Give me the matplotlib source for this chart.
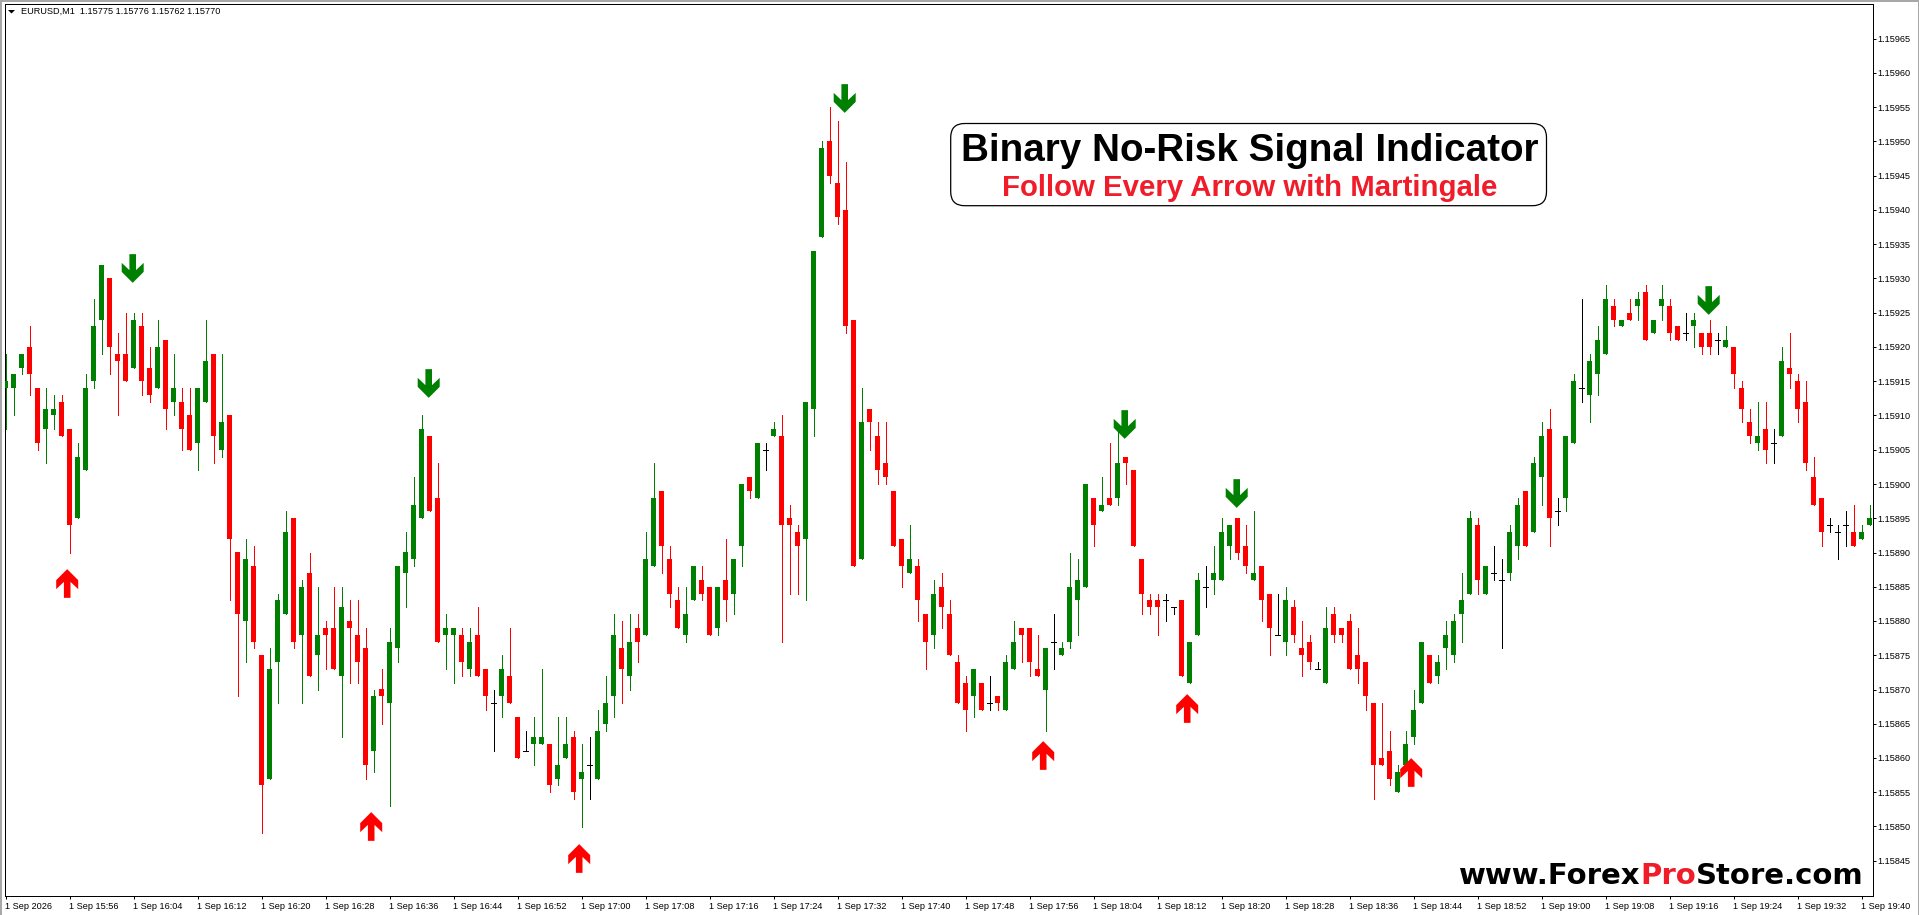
"""
Grafico de velas EURUSD M1 con las flechas del indicador Binary No-Risk Signal.
"""

import matplotlib
matplotlib.use("Agg")
import matplotlib.pyplot as plt
import numpy as np
from matplotlib import transforms
from matplotlib.patches import FancyBboxPatch, Polygon, Rectangle
from matplotlib.path import Path

# Precios en puntos por encima de 1.15000 (905 -> 1.15905), una vela por minuto
opens = [914, 914, 917, 920, 914, 908, 910, 912, 908, 895, 902, 915, 924, 930, 919, 919, 917, 923, 917, 914,
         921, 912, 912, 910, 906, 912, 919, 905, 910, 890, 880, 888, 875, 857, 874, 881, 895, 878, 887, 875,
         879, 879, 872, 880, 878, 876, 861, 870, 868, 876, 887, 889, 895, 907, 898, 878, 878, 878, 873, 878,
         873, 868, 869, 872, 866, 861, 862, 862, 862, 857, 860, 863, 857, 859, 857, 865, 869, 876, 872, 879,
         878, 888, 899, 889, 883, 878, 883, 886, 885, 879, 886, 884, 891, 901, 898, 905, 907, 907, 895, 893,
         892, 911, 936, 950, 944, 940, 924, 889, 911, 907, 903, 899, 892, 887, 888, 881, 878, 885, 881, 874,
         871, 869, 871, 868, 869, 867, 873, 879, 879, 873, 870, 877, 875, 877, 883, 885, 898, 896, 898, 898,
         904, 902, 889, 883, 883, 883, 882, 883, 871, 878, 885, 886, 886, 891, 895, 891, 886, 888, 884, 878,
         877, 882, 876, 877, 873, 871, 881, 879, 880, 875, 874, 868, 860, 861, 855, 859, 863, 868, 875, 872,
         876, 875, 881, 884, 894, 884, 887, 886, 887, 891, 899, 893, 901, 908, 896, 898, 906, 914, 913, 916,
         919, 926, 923, 925, 926, 928, 922, 926, 926, 923, 922, 923, 922, 922, 921, 920, 920, 914, 909, 906,
         908, 906, 907, 917, 915, 912, 901, 898, 894, 893, 894, 893, 892, 894]
highs = [919, 916, 919, 923, 914, 914, 913, 913, 908, 906, 916, 927, 932, 930, 922, 925, 925, 925, 920, 924,
         921, 919, 914, 914, 914, 924, 919, 919, 910, 890, 892, 891, 875, 876, 884, 896, 895, 886, 890, 885,
         880, 885, 885, 883, 883, 879, 870, 873, 879, 888, 893, 901, 910, 907, 903, 881, 879, 879, 879, 882,
         873, 870, 875, 879, 866, 864, 866, 873, 862, 866, 866, 864, 862, 863, 867, 872, 881, 880, 881, 881,
         893, 903, 899, 891, 885, 885, 888, 888, 885, 885, 892, 889, 900, 901, 906, 906, 909, 910, 897, 894,
         912, 934, 950, 955, 953, 947, 924, 914, 911, 909, 909, 899, 892, 894, 889, 881, 886, 887, 883, 875,
         872, 873, 871, 872, 869, 875, 880, 879, 879, 878, 876, 881, 877, 890, 889, 900, 898, 901, 906, 908,
         904, 902, 889, 884, 884, 884, 882, 883, 877, 887, 888, 891, 895, 894, 895, 894, 896, 888, 884, 884,
         885, 883, 880, 878, 874, 882, 882, 879, 881, 879, 874, 868, 868, 864, 859, 864, 870, 877, 875, 875,
         880, 881, 887, 896, 895, 888, 891, 889, 894, 898, 899, 904, 909, 911, 898, 907, 916, 927, 919, 923,
         929, 927, 924, 927, 928, 929, 924, 929, 927, 923, 925, 925, 922, 924, 922, 923, 920, 915, 911, 912,
         912, 908, 920, 922, 916, 915, 904, 898, 895, 894, 896, 897, 894, 897]
lows = [908, 910, 916, 913, 905, 903, 908, 907, 890, 895, 902, 914, 919, 916, 910, 915, 917, 913, 912, 914,
        908, 910, 905, 905, 902, 912, 903, 904, 883, 869, 874, 876, 849, 857, 868, 881, 876, 868, 872, 870,
        873, 873, 863, 871, 871, 857, 858, 865, 853, 874, 882, 888, 895, 896, 877, 873, 871, 872, 872, 872,
        867, 861, 866, 868, 860, 861, 859, 862, 855, 856, 860, 854, 850, 854, 857, 864, 866, 868, 870, 874,
        878, 888, 887, 882, 879, 877, 883, 883, 878, 878, 880, 881, 888, 898, 898, 902, 907, 877, 884, 884,
        883, 907, 936, 944, 938, 922, 888, 889, 905, 900, 900, 891, 885, 887, 880, 873, 876, 879, 875, 868,
        864, 866, 867, 867, 867, 867, 873, 874, 872, 872, 864, 873, 875, 876, 878, 885, 891, 896, 897, 897,
        900, 891, 881, 881, 878, 880, 881, 872, 871, 878, 882, 884, 886, 889, 889, 887, 886, 880, 875, 878,
        875, 877, 872, 873, 873, 871, 877, 877, 873, 871, 867, 854, 859, 856, 855, 859, 862, 868, 871, 871,
        873, 874, 877, 884, 884, 884, 886, 876, 886, 889, 891, 893, 897, 891, 894, 896, 906, 912, 909, 913,
        919, 923, 923, 924, 924, 921, 922, 924, 921, 921, 921, 920, 919, 919, 919, 920, 914, 909, 906, 905,
        903, 903, 907, 914, 909, 902, 897, 891, 893, 889, 891, 891, 892, 894]
closes = [915, 916, 919, 916, 906, 911, 911, 907, 894, 904, 914, 923, 932, 920, 918, 915, 924, 915, 913, 920,
          911, 914, 908, 905, 914, 918, 907, 909, 892, 881, 889, 877, 856, 873, 883, 893, 877, 885, 872, 878,
          878, 873, 882, 879, 874, 859, 869, 869, 877, 888, 890, 897, 908, 896, 877, 879, 879, 874, 877, 872,
          869, 868, 873, 868, 860, 861, 863, 863, 856, 859, 862, 855, 858, 859, 864, 868, 878, 873, 877, 877,
          889, 898, 891, 884, 879, 881, 888, 884, 878, 885, 883, 889, 900, 899, 906, 905, 908, 894, 894, 891,
          912, 934, 949, 945, 939, 923, 888, 909, 909, 902, 901, 891, 888, 889, 883, 877, 884, 882, 875, 868,
          867, 873, 867, 868, 868, 874, 877, 878, 874, 872, 876, 877, 876, 885, 886, 900, 894, 897, 897, 903,
          903, 891, 884, 882, 882, 883, 882, 872, 877, 886, 885, 887, 893, 894, 890, 888, 887, 883, 879, 878,
          883, 878, 875, 874, 873, 879, 878, 878, 873, 873, 869, 859, 859, 857, 858, 862, 867, 877, 871, 874,
          878, 880, 883, 895, 886, 888, 887, 886, 893, 897, 891, 903, 907, 895, 896, 907, 915, 914, 918, 921,
          927, 924, 924, 924, 927, 921, 924, 927, 922, 921, 922, 924, 920, 920, 921, 921, 916, 911, 907, 907,
          905, 906, 918, 916, 911, 903, 897, 893, 894, 893, 894, 891, 893, 895]

# Flechas del indicador: vela donde aparecen y precio (puntos) del centro de la flecha
up_arrow_bars = [8, 46, 72, 130, 148, 176]
up_arrow_prices = [885.5, 850.1, 845.4, 860.5, 867.3, 858.0]
down_arrow_bars = [16, 53, 105, 140, 154, 213]
down_arrow_prices = [931.5, 914.7, 956.4, 908.8, 898.7, 926.8]

x_tick_bars = [0, 8, 16, 24, 32, 40, 48, 56, 64, 72, 80, 88, 96, 104, 112, 120, 128, 136, 144, 152,
               160, 168, 176, 184, 192, 200, 208, 216, 224, 232]
x_tick_labels = ["1 Sep 2026", "1 Sep 15:56", "1 Sep 16:04", "1 Sep 16:12", "1 Sep 16:20", "1 Sep 16:28",
                 "1 Sep 16:36", "1 Sep 16:44", "1 Sep 16:52", "1 Sep 17:00", "1 Sep 17:08", "1 Sep 17:16",
                 "1 Sep 17:24", "1 Sep 17:32", "1 Sep 17:40", "1 Sep 17:48", "1 Sep 17:56", "1 Sep 18:04",
                 "1 Sep 18:12", "1 Sep 18:20", "1 Sep 18:28", "1 Sep 18:36", "1 Sep 18:44", "1 Sep 18:52",
                 "1 Sep 19:00", "1 Sep 19:08", "1 Sep 19:16", "1 Sep 19:24", "1 Sep 19:32", "1 Sep 19:40"]
y_tick_labels = ["1.15845", "1.15850", "1.15855", "1.15860", "1.15865", "1.15870", "1.15875", "1.15880",
                 "1.15885", "1.15890", "1.15895", "1.15900", "1.15905", "1.15910", "1.15915", "1.15920",
                 "1.15925", "1.15930", "1.15935", "1.15940", "1.15945", "1.15950", "1.15955", "1.15960",
                 "1.15965"]

header_text = "EURUSD,M1  1.15775 1.15776 1.15762 1.15770"
title_text = "Binary No-Risk Signal Indicator"
subtitle_text = "Follow Every Arrow with Martingale"

W, H = 1919, 915
GREEN = "#008000"
RED = "#FF0000"
TEXT_RED = "#F01C2A"
FONT = "Liberation Sans"
LABEL_SIZE = 6.6


def fx(px):
    return px / W


def fy(py):
    return 1 - py / H


def price(points):
    return 1.15 + np.asarray(points, dtype=float) * 1e-5


def arrow_path(up=True):
    # Flecha en pixeles, centrada en su altura
    pts = np.array([(0, 14.35), (11, 3.35), (11, -5.65), (3.3, 1.65), (3.3, -14.35),
                    (-3.3, -14.35), (-3.3, 1.65), (-11, -5.65), (-11, 3.35), (0, 14.35)])
    if up:
        pts = pts + np.array([-3.3, 0])
    else:
        pts = pts * np.array([1, -1]) + np.array([-1.8, 0])
    return Path(pts, closed=True)


def plot_candles(ax):
    o, h, l, c = map(np.array, (opens, highs, lows, closes))
    x = np.arange(len(o))
    colors = np.where(c > o, GREEN, np.where(c < o, RED, "black"))

    ax.vlines(x, price(l), price(h), colors=colors, lw=0.72, antialiased=False, zorder=2)
    body = c != o
    ax.bar(x[body], price(np.abs(c - o)[body]) - 1.15, width=4.9 / 8,
           bottom=price(np.minimum(o, c)[body]), color=colors[body],
           linewidth=0, antialiased=False, zorder=3)
    doji = ~body
    ax.hlines(price(c[doji]), x[doji] - 2.5 / 8, x[doji] + 2.5 / 8, colors="black",
              lw=0.72, antialiased=False, zorder=3)


fig = plt.figure(figsize=(W / 100, H / 100), dpi=100, facecolor="white")

left, right, top, bottom = 4.5, 1872.5, 3.5, 895.5
ax = fig.add_axes([fx(left), fy(bottom), fx(right - left), fy(top) - fy(bottom)])
ax.set_xlim((left - 5.5) / 8, (right - 5.5) / 8)
px_per_point = 6.85
ax.set_ylim(price(930 - (bottom - 278.5) / px_per_point), price(930 + (278.5 - top) / px_per_point))

plot_candles(ax)

ax.plot(up_arrow_bars, price(up_arrow_prices), ls="", marker=arrow_path(True), ms=20.66,
        mfc=RED, mec=RED, mew=0, zorder=5)
ax.plot(down_arrow_bars, price(down_arrow_prices), ls="", marker=arrow_path(False), ms=20.66,
        mfc=GREEN, mec=GREEN, mew=0, zorder=5)

# Ejes al estilo MT4: precios a la derecha, etiquetas de hora a la derecha de cada marca
ax.yaxis.tick_right()
ax.set_yticks(price([float(s) * 1e5 - 115000 for s in y_tick_labels]))
ax.set_yticklabels(y_tick_labels, fontsize=LABEL_SIZE, family=FONT)
ax.set_xticks(x_tick_bars)
ax.set_xticklabels(x_tick_labels, fontsize=LABEL_SIZE, family=FONT, ha="left")
ax.tick_params(axis="y", length=2.2, width=0.72, pad=1.2)
ax.tick_params(axis="x", length=2.2, width=0.72, pad=2.8)
shift = transforms.ScaledTranslation(-0.01, 0, fig.dpi_scale_trans)
for lab in ax.get_xticklabels():
    lab.set_transform(lab.get_transform() + shift)
for spine in ax.spines.values():
    spine.set_linewidth(0.72)

# Cabecera
fig.text(fx(20.5), fy(11.7), header_text, fontsize=LABEL_SIZE, family=FONT, va="center", ha="left")
fig.add_artist(Polygon([(fx(8), fy(10)), (fx(15), fy(10)), (fx(11.5), fy(13.5))],
                       closed=True, color="black", lw=0, transform=fig.transFigure))

# Recuadro del titulo, en pixeles de la imagen
box_left, box_right, box_top, box_bottom, radius = 950.7, 1546.5, 123.5, 205.7, 14
box = FancyBboxPatch((box_left + radius, box_top + radius),
                     box_right - box_left - 2 * radius, box_bottom - box_top - 2 * radius,
                     boxstyle=f"round,pad={radius},rounding_size={radius}", fc="white", ec="black", lw=0.9)
box.set_transform(transforms.Affine2D().scale(1, -1).translate(0, H))
fig.add_artist(box)
fig.text(fx(1250), fy(161), title_text, fontsize=27.8, family=FONT, weight="bold",
         ha="center", va="baseline", color="black")
fig.text(fx(1250), fy(195.5), subtitle_text, fontsize=21.2, family=FONT, weight="bold",
         ha="center", va="baseline", color=TEXT_RED)

# Marca de agua en tres tramos
t1 = fig.text(fx(1459), fy(883.7), "www.Forex", fontsize=21, family="DejaVu Sans", weight="bold",
              ha="left", va="baseline", color="black")
t2 = ax.annotate("Pro", xy=(1, 0), xycoords=t1, fontsize=21, family="DejaVu Sans", weight="bold",
                 ha="left", va="bottom", color=TEXT_RED, annotation_clip=False)
t3 = ax.annotate("Store.com", xy=(1, 0), xycoords=t2, fontsize=21, family="DejaVu Sans", weight="bold",
                 ha="left", va="bottom", color="black", annotation_clip=False)

# Marco gris de la ventana
for rect in [(0, 0, W, 1.6), (0, 0, 1.8, H), (W - 1, 0, 1, H)]:
    fig.add_artist(Rectangle((fx(rect[0]), 1 - (rect[1] + rect[3]) / H), rect[2] / W, rect[3] / H,
                             color="#A8A8A8", lw=0, transform=fig.transFigure))

fig.savefig("out.png", dpi=100)
